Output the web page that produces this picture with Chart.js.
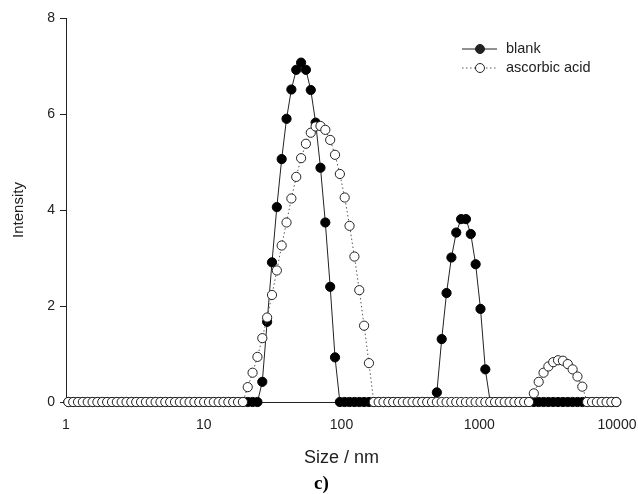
<!DOCTYPE html>
<html>
<head>
<meta charset="utf-8">
<script src="https://cdn.jsdelivr.net/npm/chart.js@4.4.1/dist/chart.umd.min.js"></script>
<style>
    html, body { margin: 0; padding: 0; background: #fff; }
    #chartBox { width: 638px; height: 494px; position: relative; }
</style>
</head>
<body>
<div id="chartBox"><canvas id="sizeChart" width="638" height="494"></canvas></div>
<script>
// =====================================================
// DLS size distribution - blank vs ascorbic acid
// =====================================================

// Size bins (nm), log spaced
const sizes = [
    1.040, 1.128, 1.223, 1.326, 1.438, 1.560, 1.691, 1.834, 1.989, 2.157,
    2.339, 2.536, 2.750, 2.982, 3.234, 3.508, 3.804, 4.125, 4.473, 4.851,
    5.260, 5.704, 6.186, 6.708, 7.274, 7.889, 8.554, 9.277, 10.06, 10.91,
    11.83, 12.83, 13.91, 15.09, 16.36, 17.74, 19.24, 20.86, 22.62, 24.53,
    26.61, 28.85, 31.29, 33.93, 36.79, 39.90, 43.26, 46.92, 50.88, 55.17,
    59.84, 64.89, 70.37, 76.31, 82.75, 89.74, 97.32, 105.5, 114.4, 124.1,
    134.6, 145.9, 158.2, 171.6, 186.1, 201.8, 218.9, 237.3, 257.4, 279.1,
    302.7, 328.3, 356.0, 386.1, 418.7, 454.0, 492.3, 533.9, 579.0, 627.9,
    680.8, 738.3, 800.7, 868.2, 941.5, 1021, 1107, 1201, 1302, 1412,
    1531, 1661, 1801, 1953, 2118, 2296, 2490, 2701, 2929, 3176,
    3443, 3734, 4050, 4391, 4762, 5164, 5600, 6072, 6585, 7141,
    7745, 8398, 9108, 9876
];

const blank = [
    0, 0, 0, 0, 0, 0, 0, 0, 0, 0,
    0, 0, 0, 0, 0, 0, 0, 0, 0, 0,
    0, 0, 0, 0, 0, 0, 0, 0, 0, 0,
    0, 0, 0, 0, 0, 0, 0, 0, 0, 0,
    0.42, 1.67, 2.91, 4.06, 5.06, 5.90, 6.51, 6.92, 7.07, 6.92,
    6.50, 5.82, 4.88, 3.74, 2.40, 0.93, 0, 0, 0, 0,
    0, 0, 0, 0, 0, 0, 0, 0, 0, 0,
    0, 0, 0, 0, 0, 0, 0.20, 1.31, 2.27, 3.01,
    3.53, 3.81, 3.81, 3.50, 2.87, 1.94, 0.68, 0, 0, 0,
    0, 0, 0, 0, 0, 0, 0, 0, 0, 0,
    0, 0, 0, 0, 0, 0, 0, 0, 0, 0,
    0, 0, 0, 0
];

const ascorbicAcid = [
    0, 0, 0, 0, 0, 0, 0, 0, 0, 0,
    0, 0, 0, 0, 0, 0, 0, 0, 0, 0,
    0, 0, 0, 0, 0, 0, 0, 0, 0, 0,
    0, 0, 0, 0, 0, 0, 0, 0.31, 0.61, 0.94,
    1.33, 1.76, 2.23, 2.74, 3.26, 3.74, 4.24, 4.69, 5.08, 5.38,
    5.61, 5.74, 5.75, 5.67, 5.46, 5.15, 4.75, 4.26, 3.67, 3.03,
    2.33, 1.59, 0.81, 0, 0, 0, 0, 0, 0, 0,
    0, 0, 0, 0, 0, 0, 0, 0, 0, 0,
    0, 0, 0, 0, 0, 0, 0, 0, 0, 0,
    0, 0, 0, 0, 0, 0, 0.18, 0.42, 0.61, 0.74,
    0.83, 0.87, 0.86, 0.79, 0.68, 0.53, 0.32, 0, 0, 0,
    0, 0, 0, 0
];

const xTicks = [1, 10, 100, 1000, 10000];
const yTicks = [0, 2, 4, 6, 8];
const seriesNames = ['blank', 'ascorbic acid'];

const FONT = 'Liberation Sans';
const INK = '#222';

// Legend in SigmaPlot style (line + marker) and the panel label
const extrasPlugin = {
    id: 'extras',
    afterDraw(chart) {
        const ctx = chart.ctx;
        ctx.save();

        function legendRow(y, dotted, filled, label) {
            ctx.beginPath();
            ctx.strokeStyle = dotted ? '#555' : INK;
            ctx.lineWidth = 1;
            ctx.setLineDash(dotted ? [1.5, 2.5] : []);
            ctx.moveTo(462, y);
            ctx.lineTo(497, y);
            ctx.stroke();
            ctx.setLineDash([]);
            ctx.beginPath();
            ctx.arc(480, y, 4.5, 0, Math.PI * 2);
            ctx.fillStyle = filled ? INK : '#fff';
            ctx.fill();
            ctx.strokeStyle = INK;
            ctx.stroke();
            ctx.fillStyle = INK;
            ctx.font = '14.5px "' + FONT + '"';
            ctx.textAlign = 'left';
            ctx.textBaseline = 'middle';
            ctx.fillText(label, 506, y);
        }

        legendRow(49, false, true, seriesNames[0]);
        legendRow(68, true, false, seriesNames[1]);

        ctx.fillStyle = '#000';
        ctx.font = 'bold 19px "Liberation Serif"';
        ctx.textAlign = 'left';
        ctx.textBaseline = 'middle';
        ctx.fillText('c)', 314, 484);
        ctx.restore();
    }
};

const ctx = document.getElementById('sizeChart').getContext('2d');
new Chart(ctx, {
    type: 'line',
    data: {
        datasets: [{
            label: seriesNames[0],
            data: sizes.map((s, i) => ({ x: s, y: blank[i] })),
            borderColor: INK,
            borderWidth: 1,
            pointRadius: 4.6,
            pointHoverRadius: 4.6,
            pointBackgroundColor: '#000',
            pointBorderColor: '#000',
            pointBorderWidth: 1,
            tension: 0,
            clip: false,
            order: 1
        }, {
            label: seriesNames[1],
            data: sizes.map((s, i) => ({ x: s, y: ascorbicAcid[i] })),
            borderColor: '#555',
            borderWidth: 1,
            borderDash: [1.5, 2.5],
            pointRadius: 4.6,
            pointHoverRadius: 4.6,
            pointBackgroundColor: '#fff',
            pointBorderColor: INK,
            pointBorderWidth: 1,
            tension: 0,
            clip: false,
            order: 0
        }]
    },
    options: {
        responsive: false,
        animation: false,
        events: [],
        layout: { padding: { top: 18, right: 21, left: 0, bottom: 0 } },
        plugins: {
            legend: { display: false },
            tooltip: { enabled: false }
        },
        scales: {
            x: {
                type: 'logarithmic',
                min: 1,
                max: 10000,
                afterBuildTicks: function(scale) {
                    scale.ticks = xTicks.map(v => ({ value: v }));
                },
                afterFit: function(scale) {
                    scale.height = 92;
                    scale.paddingLeft = 0;
                    scale.paddingRight = 0;
                },
                grid: { display: false, drawTicks: false },
                border: { display: true, color: INK, width: 1 },
                ticks: {
                    color: INK,
                    font: { family: FONT, size: 14 },
                    padding: 15,
                    maxRotation: 0,
                    autoSkip: false,
                    callback: function(value) { return String(value); }
                },
                title: {
                    display: true,
                    text: 'Size / nm',
                    color: INK,
                    font: { family: FONT, size: 18 },
                    padding: { top: 0, bottom: 25 }
                }
            },
            y: {
                min: 0,
                max: 8,
                afterBuildTicks: function(scale) {
                    scale.ticks = yTicks.map(v => ({ value: v }));
                },
                afterFit: function(scale) {
                    scale.width = 66;
                    scale.paddingTop = 0;
                    scale.paddingBottom = 0;
                },
                grid: {
                    display: true,
                    drawOnChartArea: false,
                    drawTicks: true,
                    tickLength: 6,
                    color: INK
                },
                border: { display: true, color: INK, width: 1 },
                ticks: {
                    color: INK,
                    font: { family: FONT, size: 14 },
                    padding: 5
                },
                title: {
                    display: true,
                    text: 'Intensity',
                    color: INK,
                    font: { family: FONT, size: 15 },
                    padding: { top: 10, bottom: 0 }
                }
            }
        }
    },
    plugins: [extrasPlugin]
});
</script>
</body>
</html>
